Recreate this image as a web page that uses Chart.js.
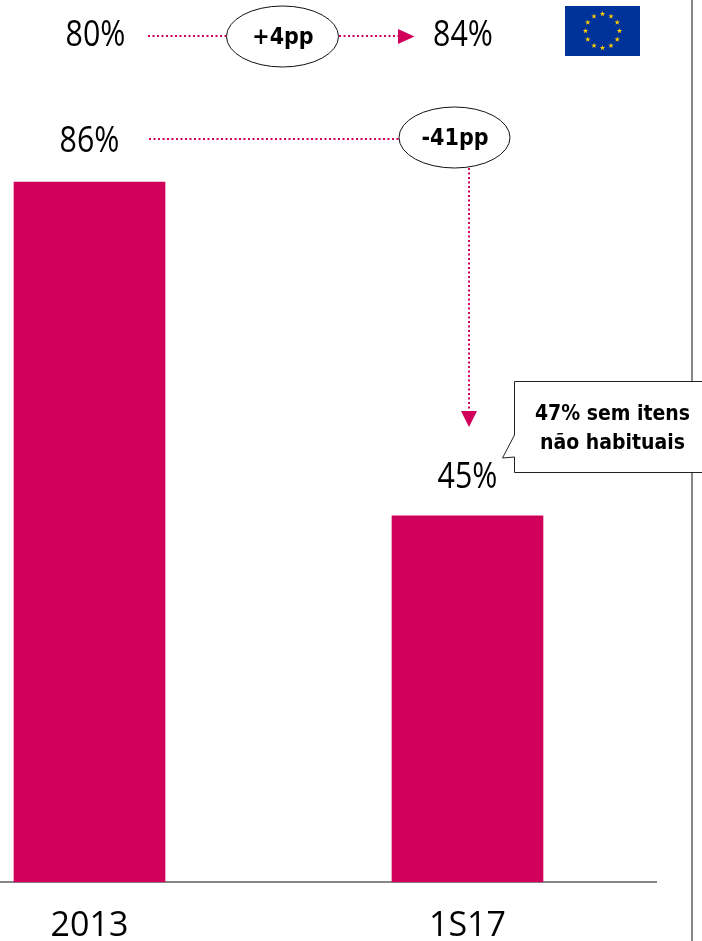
<!DOCTYPE html>
<html lang="pt">
<head>
<meta charset="utf-8">
<title>Evolução 2013 – 1S17</title>
<script src="https://cdn.jsdelivr.net/npm/chart.js@4/dist/chart.umd.js"></script>
<style>
  html, body { margin: 0; padding: 0; background: #fff; overflow: hidden; width: 702px; height: 941px; }
  #wrap { position: relative; width: 702px; height: 941px; overflow: hidden; }
  /* The canvas starts left of the page so the first category's band can run off the edge. */
  #chart { position: absolute; left: -100px; top: 0; }
</style>
</head>
<body>
<div id="wrap"><canvas id="chart" width="802" height="971"></canvas></div>
<script>
const categories = ['2013', '1S17'];
const portugalValues = [86, 45];
const euValues = [80, 84];
const euChange = '+4pp';
const portugalChange = '-41pp';
const calloutLines = ['47% sem itens', 'não habituais'];

const MAGENTA = '#D1005A';
const GREY = '#868686';
const NUMBER_FONT = '"Open Sans", sans-serif';
const NOTE_FONT = '"DejaVu Sans Condensed", "DejaVu Sans", sans-serif';
const PAGE_OFFSET = 100;

function label(ctx, text, x, y, font, stretch) {
  ctx.save();
  ctx.font = font;
  ctx.fillStyle = '#000';
  ctx.textAlign = 'center';
  ctx.textBaseline = 'middle';
  ctx.translate(x, y);
  ctx.scale(stretch, 1);
  ctx.fillText(text, 0, 0);
  ctx.restore();
}

function dotted(ctx, x1, y1, x2, y2) {
  ctx.save();
  ctx.strokeStyle = MAGENTA;
  ctx.lineWidth = 2;
  ctx.setLineDash([2, 2.5]);
  ctx.beginPath();
  ctx.moveTo(x1, y1);
  ctx.lineTo(x2, y2);
  ctx.stroke();
  ctx.restore();
}

function triangle(ctx, ax, ay, bx, by, cx, cy) {
  ctx.fillStyle = MAGENTA;
  ctx.beginPath();
  ctx.moveTo(ax, ay);
  ctx.lineTo(bx, by);
  ctx.lineTo(cx, cy);
  ctx.closePath();
  ctx.fill();
}

function bubble(ctx, cx, cy, rx, ry, text, textX, textY) {
  ctx.save();
  ctx.fillStyle = '#fff';
  ctx.strokeStyle = '#111';
  ctx.lineWidth = 1;
  ctx.beginPath();
  ctx.ellipse(cx, cy, rx, ry, 0, 0, Math.PI * 2);
  ctx.fill();
  ctx.stroke();
  ctx.restore();
  label(ctx, text, textX, textY, `bold 23px ${NOTE_FONT}`, 1);
}

function euFlag(ctx, x, y, w, h) {
  ctx.fillStyle = '#003399';
  ctx.fillRect(x, y, w, h);
  const cx = x + w / 2;
  const cy = y + h / 2;
  ctx.fillStyle = '#FFCC00';
  for (let i = 0; i < 12; i++) {
    const a = i * Math.PI / 6;
    const sx = cx + 17 * Math.sin(a);
    const sy = cy - 17 * Math.cos(a);
    ctx.beginPath();
    for (let p = 0; p < 10; p++) {
      const r = p % 2 ? 1.1 : 2.9;
      const t = p * Math.PI / 5;
      ctx.lineTo(sx + r * Math.sin(t), sy - r * Math.cos(t));
    }
    ctx.closePath();
    ctx.fill();
  }
}

function callout(ctx) {
  ctx.save();
  ctx.fillStyle = '#fff';
  ctx.strokeStyle = '#222';
  ctx.lineWidth = 1;
  ctx.beginPath();
  ctx.moveTo(703, 381.5);
  ctx.lineTo(514.5, 381.5);
  ctx.lineTo(514.5, 435);
  ctx.lineTo(502.5, 458);
  ctx.lineTo(514.5, 457);
  ctx.lineTo(514.5, 472.5);
  ctx.lineTo(703, 472.5);
  ctx.fill();
  ctx.stroke();
  ctx.restore();
  const font = `bold 21px ${NOTE_FONT}`;
  label(ctx, calloutLines[0], 612.5, 415, font, 1);
  label(ctx, calloutLines[1], 612.5, 444, font, 1);
}

// Everything around the bars: comparison row, change bubbles, arrows, callout and frame line.
const annotations = {
  id: 'annotations',
  afterDatasetsDraw(chart) {
    const { ctx, scales } = chart;
    const big = `37px ${NUMBER_FONT}`;
    ctx.save();
    ctx.translate(PAGE_OFFSET, 0);

    ctx.fillStyle = GREY;
    ctx.fillRect(691, 0, 2, 941);

    dotted(ctx, 148, 36, 228, 36);
    dotted(ctx, 339, 36, 399, 36);
    triangle(ctx, 398, 29, 414.5, 36.5, 398, 44);
    dotted(ctx, 149, 139, 400, 139);
    dotted(ctx, 469, 168, 469, 412);
    triangle(ctx, 461, 411, 477, 411, 469, 427);

    bubble(ctx, 282.5, 36.5, 56, 30.5, euChange, 283, 38);
    bubble(ctx, 454.5, 137.5, 55.5, 30.5, portugalChange, 455, 139);

    label(ctx, euValues[0] + '%', 95.5, 35, big, 0.82);
    label(ctx, euValues[1] + '%', 463, 35, big, 0.82);

    const y = scales.y;
    const x = scales.x;
    label(ctx, portugalValues[0] + '%', x.getPixelForValue(0) - PAGE_OFFSET, y.getPixelForValue(portugalValues[0]) - 40.5, big, 0.82);
    label(ctx, portugalValues[1] + '%', x.getPixelForValue(1) - PAGE_OFFSET, y.getPixelForValue(portugalValues[1]) - 38, big, 0.82);

    euFlag(ctx, 565, 6, 75, 50);
    callout(ctx);
    ctx.restore();
  }
};

new Chart(document.getElementById('chart'), {
  type: 'bar',
  data: {
    labels: categories,
    datasets: [{
      data: portugalValues,
      backgroundColor: MAGENTA,
      borderWidth: 0,
      barThickness: 151
    }]
  },
  options: {
    responsive: false,
    animation: false,
    devicePixelRatio: 1,
    layout: { padding: { left: 0.5, right: 45.5, top: 68, bottom: 0 } },
    plugins: { legend: { display: false }, tooltip: { enabled: false } },
    scales: {
      x: {
        grid: { display: false, drawTicks: false },
        border: { display: true, color: GREY, width: 2 },
        ticks: {
          color: '#000',
          padding: 24,
          font: { family: NUMBER_FONT, size: 34 }
        }
      },
      y: { display: false, min: 0, max: 100 }
    }
  },
  plugins: [annotations]
});
</script>
</body>
</html>
